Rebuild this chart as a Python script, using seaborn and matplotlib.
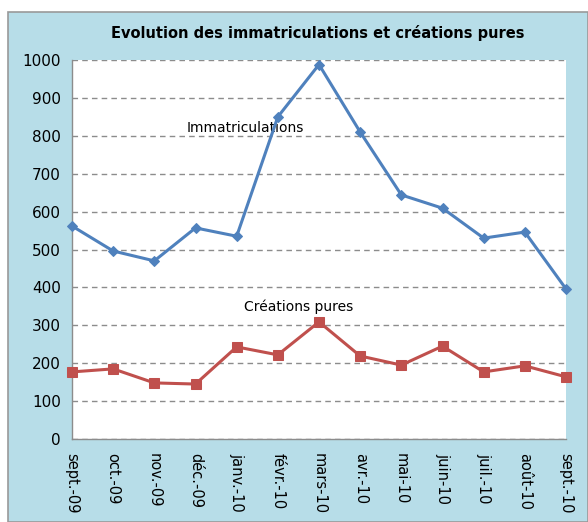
import matplotlib
matplotlib.use("Agg")
import matplotlib.pyplot as plt
import seaborn as sns
import pandas as pd
from matplotlib.patches import Rectangle

months = ["sept.-09", "oct.-09", "nov.-09", "déc.-09", "janv.-10", "févr.-10",
          "mars-10", "avr.-10", "mai-10", "juin-10", "juil.-10", "août-10", "sept.-10"]
immatriculations = [562, 496, 470, 557, 535, 850, 988, 810, 644, 609, 530, 546, 396]
creations_pures = [177, 185, 148, 145, 243, 222, 309, 219, 195, 245, 177, 193, 164]
yticks = [0, 100, 200, 300, 400, 500, 600, 700, 800, 900, 1000]

BG = "#b7dde8"
BLUE = "#4f81bd"
RED = "#c0504d"

sns.set_style("white")
plt.rcParams['font.family'] = ['DejaVu Sans']
plt.rcParams['text.color'] = 'black'

df = pd.DataFrame({"idx": range(len(months)),
                   "Immatriculations": immatriculations,
                   "Créations pures": creations_pures})

fig = plt.figure(figsize=(5.88, 5.22), dpi=100, facecolor="white")
fig.patches.append(Rectangle((8/588, 0), 1 - 8/588, (522-12)/522, transform=fig.transFigure,
                             facecolor=BG, edgecolor="#999999", linewidth=1.2, zorder=-10))

ax = fig.add_axes([72/588, (522-439)/522, (566-72)/588, (439-60)/522])
ax.set_facecolor("white")

sns.lineplot(data=df, x="idx", y="Immatriculations", ax=ax, color=BLUE, linewidth=2.2,
             marker="D", markersize=5, markeredgecolor=BLUE, clip_on=False, zorder=5)
sns.lineplot(data=df, x="idx", y="Créations pures", ax=ax, color=RED, linewidth=2.2,
             marker="s", markersize=7, markeredgecolor=RED, clip_on=False, zorder=5)

ax.set_xlim(0, len(months) - 1)
ax.set_ylim(0, 1000)
ax.set_yticks(yticks)
ax.set_yticklabels([str(v) for v in yticks], fontsize=11)
ax.set_xticks(range(len(months)))
ax.set_xticklabels(months, rotation=270, fontsize=10.5, va="top", ha="center")
ax.set_xlabel("")
ax.set_ylabel("")
ax.yaxis.grid(True, linestyle=(0, (4, 3)), color="#8c8c8c", linewidth=1)
ax.xaxis.grid(False)
ax.set_axisbelow(True)
for s in ["top", "right"]:
    ax.spines[s].set_visible(False)
for s in ["left", "bottom"]:
    ax.spines[s].set_color("#8c8c8c")
    ax.spines[s].set_linewidth(1)
ax.tick_params(axis="both", length=0, pad=8, colors="black", labelcolor="black")
ax.tick_params(axis="x", pad=10)

ax.text(4.2, 820, "Immatriculations", fontsize=10, ha="center", va="center", color="black")
ax.text(5.5, 350, "Créations pures", fontsize=10, ha="center", va="center", color="black")

fig.text((128+508)/2/588, 1 - 33/522, "Evolution des immatriculations et créations pures",
         fontsize=10.5, fontweight="bold", ha="center", va="center", color="black")

fig.savefig("out.png", dpi=100, facecolor="white")
